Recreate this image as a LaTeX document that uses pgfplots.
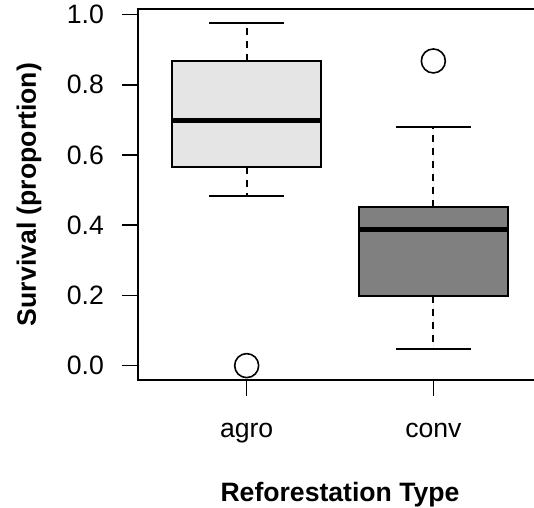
\documentclass[border=0pt]{standalone}
\usepackage{fontspec}
\setmainfont{Liberation Sans}
\usepackage{pgfplots}
\pgfplotsset{compat=1.18}
\usepgfplotslibrary{statistics}

\definecolor{agrofill}{HTML}{E5E5E5}
\definecolor{convfill}{HTML}{808080}

% whiskers: dashed stem, solid cap
\pgfplotsset{
  boxplot/draw/lower whisker/.code={%
    \draw[/pgfplots/boxplot/every whisker/.try, dash pattern=on 7pt off 6pt]
      (boxplot box cs:\pgfplotsboxplotvalue{lower quartile},0.5) --
      (boxplot box cs:\pgfplotsboxplotvalue{lower whisker},0.5);
    \draw[/pgfplots/boxplot/every whisker/.try]
      (boxplot whisker cs:\pgfplotsboxplotvalue{lower whisker},0) --
      (boxplot whisker cs:\pgfplotsboxplotvalue{lower whisker},1);
  },
  boxplot/draw/upper whisker/.code={%
    \draw[/pgfplots/boxplot/every whisker/.try, dash pattern=on 7pt off 6pt]
      (boxplot box cs:\pgfplotsboxplotvalue{upper quartile},0.5) --
      (boxplot box cs:\pgfplotsboxplotvalue{upper whisker},0.5);
    \draw[/pgfplots/boxplot/every whisker/.try]
      (boxplot whisker cs:\pgfplotsboxplotvalue{upper whisker},0) --
      (boxplot whisker cs:\pgfplotsboxplotvalue{upper whisker},1);
  },
}

\newcommand{\chartfont}{\fontsize{26.6pt}{30pt}\selectfont}

\begin{document}
\begin{tikzpicture}
\useasboundingbox (0,0) rectangle (534pt,507pt);
\begin{axis}[
  at={(138pt,127pt)}, anchor=south west,
  scale only axis, width=404pt, height=371pt,
  xmin=0.418, xmax=2.582, ymin=-0.041, ymax=1.016,
  axis line style={line width=1.6pt},
  every tick/.style={black, line width=1.6pt},
  tick align=outside, tick pos=left,
  major tick length=16pt,
  xtick={1,2}, xticklabels={agro,conv},
  ytick={0,0.2,0.4,0.6,0.8,1.0},
  /pgf/number format/assume math mode=true,
  yticklabel={\pgfmathprintnumber[fixed,fixed zerofill,precision=1]{\tick}},
  ticklabel style={font=\chartfont},
  yticklabel style={anchor=east, inner sep=0pt, xshift=-18pt},
  xticklabel style={anchor=base, inner sep=0pt, yshift=-41pt},
  xlabel={\textbf{Reforestation Type}},
  ylabel={\textbf{Survival (proportion)}},
  label style={font=\chartfont},
  xlabel style={at={([yshift=-121pt]axis description cs:0.5,0)}, anchor=base, inner sep=0pt},
  ylabel style={at={([xshift=-102pt]axis description cs:0,0.5)}, anchor=base, inner sep=0pt},
  boxplot/draw direction=y,
  boxplot/box extend=0.8,
  boxplot/whisker extend=0.4,
  boxplot/every box/.style={line width=1.8pt},
  boxplot/every whisker/.style={line width=1.8pt},
  boxplot/every median/.style={line width=5pt},
]
% agroforestry reforestation
\addplot[draw=black, fill=agrofill,
  mark=o, mark size=12pt, mark options={solid, line width=1.6pt, fill=none},
  boxplot prepared={draw position=1,
    lower whisker=0.484, lower quartile=0.565, median=0.697,
    upper quartile=0.868, upper whisker=0.977}]
  table[row sep=\\, y index=0] {0.0\\};
% conventional reforestation
\addplot[draw=black, fill=convfill,
  mark=o, mark size=12pt, mark options={solid, line width=1.6pt, fill=none},
  boxplot prepared={draw position=2,
    lower whisker=0.048, lower quartile=0.199, median=0.389,
    upper quartile=0.453, upper whisker=0.680}]
  table[row sep=\\, y index=0] {0.868\\};
\end{axis}
\end{tikzpicture}
\end{document}
